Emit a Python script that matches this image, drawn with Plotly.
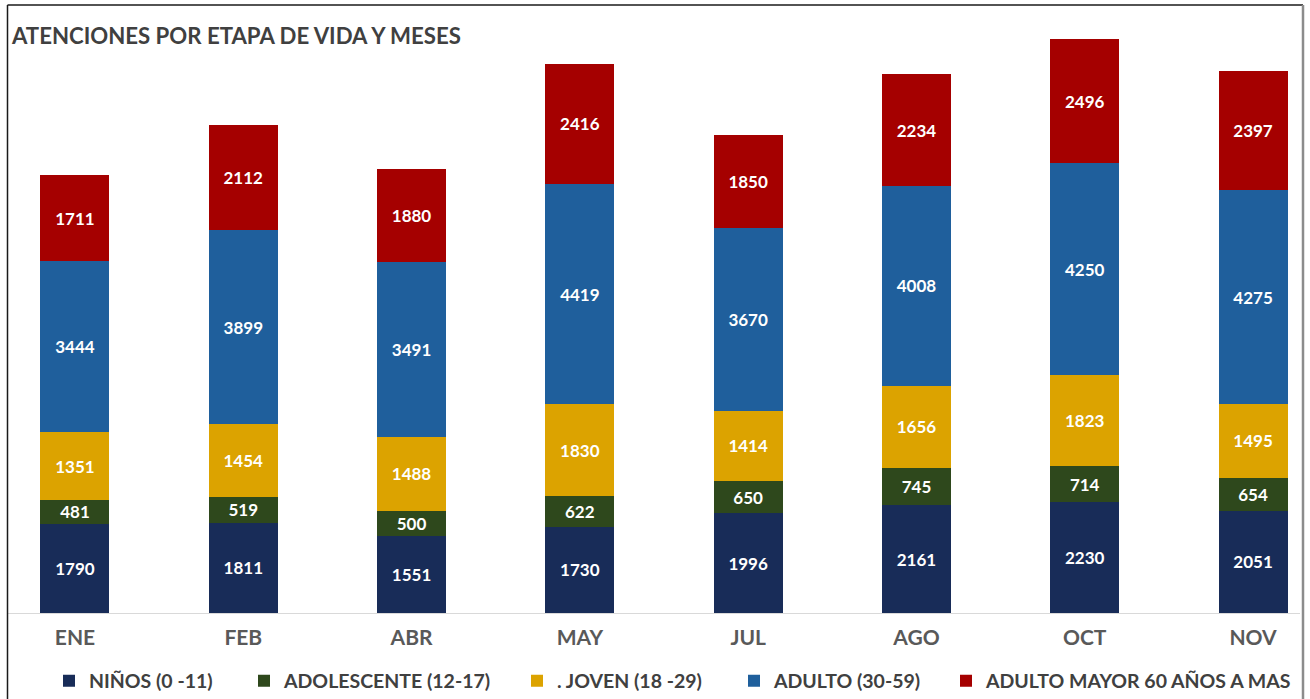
import plotly.graph_objects as go

months = ["ENE", "FEB", "ABR", "MAY", "JUL", "AGO", "OCT", "NOV"]
ninos = [1790, 1811, 1551, 1730, 1996, 2161, 2230, 2051]
adolescente = [481, 519, 500, 622, 650, 745, 714, 654]
joven = [1351, 1454, 1488, 1830, 1414, 1656, 1823, 1495]
adulto = [3444, 3899, 3491, 4419, 3670, 4008, 4250, 4275]
adulto_mayor = [1711, 2112, 1880, 2416, 1850, 2234, 2496, 2397]

series = [
    ("NIÑOS (0 -11)", ninos, "#182c58"),
    ("ADOLESCENTE (12-17)", adolescente, "#2e481c"),
    (". JOVEN (18 -29)", joven, "#dca300"),
    ("ADULTO (30-59)", adulto, "#1f5f9c"),
    ("ADULTO MAYOR 60 AÑOS A MAS", adulto_mayor, "#a50000"),
]
# legend square centres (px) in the reference
legend_sq = [74, 269, 542, 759, 971]

W, H = 1310, 699
L, R, T, B = 8, 10, 15, 86
pw, ph = W - L - R, H - T - B

def px_x(p):
    return (p - L) / pw

def px_y(p):
    return (H - B - p) / ph

fig = go.Figure()
legend_layouts = {}
for i, (name, vals, col) in enumerate(series):
    lname = "legend" if i == 0 else f"legend{i + 1}"
    fig.add_trace(go.Bar(
        x=months, y=vals, name=name, legend=lname,
        marker=dict(color=col, line=dict(width=0)),
        text=[str(v) for v in vals],
        textposition="inside", insidetextanchor="middle",
        textangle=0, constraintext="none",
        textfont=dict(family="Lato", size=17, color="white", weight="bold"),
        width=0.41,
    ))
    legend_layouts[lname] = dict(
        orientation="h",
        x=px_x(legend_sq[i] - 25), xanchor="left",
        y=px_y(681), yanchor="middle",
        font=dict(family="Lato", size=19.5, color="#404040", weight="bold"),
        bgcolor="rgba(0,0,0,0)",
    )

# frame lines
frame = dict(type="line", xref="paper", yref="paper")
fig.add_shape(**frame, x0=px_x(7.5), x1=px_x(7.5), y0=px_y(5), y1=px_y(699), line=dict(color="#1a1a1a", width=1.5))
fig.add_shape(**frame, x0=px_x(7.5), x1=px_x(1303), y0=px_y(5), y1=px_y(5), line=dict(color="#1a1a1a", width=1.5))
fig.add_shape(**frame, x0=px_x(1303), x1=px_x(1303), y0=px_y(5), y1=px_y(699), line=dict(color="#8c8c8c", width=2.5))

fig.update_layout(
    width=W, height=H,
    margin=dict(l=L, r=R, t=T, b=B, autoexpand=False),
    paper_bgcolor="white", plot_bgcolor="white",
    barmode="stack",
    title=dict(
        text="ATENCIONES POR ETAPA DE VIDA Y MESES",
        x=12 / W, xanchor="left", xref="container",
        y=1 - 36 / H, yanchor="middle", yref="container",
        font=dict(family="Lato", size=22.2, color="#404040", weight="bold"),
    ),
    showlegend=True,
    xaxis=dict(
        range=[-0.398, 7.279],
        showgrid=False, zeroline=False,
        showline=True, linecolor="#d9d9d9", linewidth=1,
        ticks="", ticklabelstandoff=6,
        tickfont=dict(family="Lato", size=21, color="#595959", weight="bold"),
    ),
    yaxis=dict(
        range=[0, ph / 0.04986],
        visible=False, showgrid=False, zeroline=False,
    ),
    **legend_layouts,
)

fig.write_html(
    "out.html",
    config={"displayModeBar": False},
    post_script="document.body.style.margin='0px';",
)
